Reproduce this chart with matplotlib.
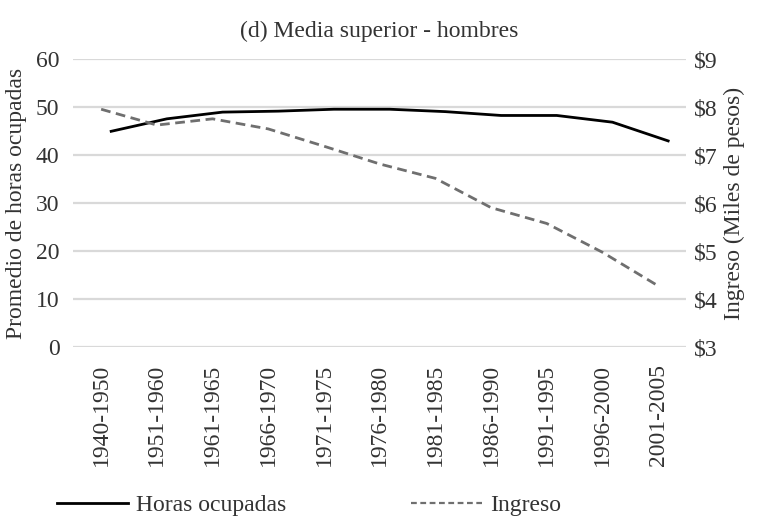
import matplotlib
matplotlib.use("Agg")
import matplotlib.pyplot as plt
from matplotlib.lines import Line2D
import numpy as np

plt.rcParams['font.family'] = ['Liberation Serif', 'DejaVu Serif']

periodos = ["1940-1950", "1951-1960", "1961-1965", "1966-1970", "1971-1975",
            "1976-1980", "1981-1985", "1986-1990", "1991-1995", "1996-2000",
            "2001-2005"]
horas = [45.0, 47.6, 49.0, 49.2, 49.6, 49.6, 49.1, 48.3, 48.3, 46.9, 43.0]
ingreso = [7.96, 7.63, 7.76, 7.55, 7.19, 6.82, 6.52, 5.91, 5.58, 4.98, 4.28]

x = np.arange(len(periodos))
txt = "#333333"
fs = 17

fig = plt.figure(figsize=(7.58, 5.18), dpi=100)
ax = fig.add_axes([0.0967, 0.3295, 0.8083, 0.556])
ax2 = ax.twinx()

for v in range(0, 61, 10):
    ax.axhline(v, color="#d9d9d9", lw=1.6, zorder=0)

ax.plot(x + 0.18, horas, color="black", lw=2, zorder=3)
ax2.plot(x, ingreso, color="#6f6f6f", lw=2, ls=(0, (3.5, 2)), zorder=3)

ax.set_xlim(-0.5, len(periodos) - 0.5)
ax.set_ylim(0, 60)
ax2.set_ylim(3, 9)
ax.set_yticks(range(0, 61, 10))
ax2.set_yticks(range(3, 10))
ax2.set_yticklabels(["$%d" % v for v in range(3, 10)])
ax.set_xticks(x)
ax.set_xticklabels(periodos, rotation=90)

for a in (ax, ax2):
    for s in a.spines.values():
        s.set_visible(False)
    a.tick_params(length=0, labelsize=fs, labelcolor=txt)
ax.tick_params(axis="x", pad=12)
ax.tick_params(axis="y", pad=10)
ax2.tick_params(axis="y", pad=6)

ax.set_ylabel("Promedio de horas ocupadas", fontsize=fs, color=txt, labelpad=6)
ax2.set_ylabel("Ingreso (Miles de pesos)", fontsize=fs, color=txt, labelpad=4)
ax.set_title("(d) Media superior - hombres", fontsize=fs, color=txt, pad=16)

h1 = Line2D([], [], color="black", lw=2)
h2 = Line2D([], [], color="#6f6f6f", lw=1.6, ls=(0, (2.6, 1.6)))
fig.legend(handles=[h1, h2], labels=["Horas ocupadas", "Ingreso"],
           loc="center left", bbox_to_anchor=(0.075, 0.025),
           ncol=2, frameon=False, fontsize=fs, handlelength=3.0,
           columnspacing=5.3, handletextpad=0.35, labelcolor=txt,
           borderpad=0, borderaxespad=0)

fig.savefig("out.png", dpi=100)
